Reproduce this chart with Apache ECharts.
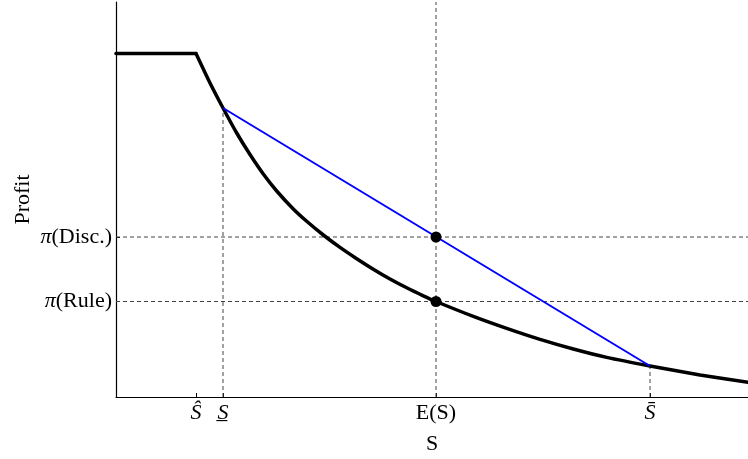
<!DOCTYPE html>
<html>
<head>
<meta charset="utf-8">
<script src="https://cdn.jsdelivr.net/npm/echarts@6/dist/echarts.min.js"></script>
<style>
html,body{margin:0;padding:0;background:#fff;}
#chart{width:748px;height:459px;}
</style>
</head>
<body>
<div id="chart"></div>
<script>
// ---- data (units: S along x, profit along y) ----
const xMax = 632;
const yMax = 395;
const xTickValues = [80, 107, 320, 534];
const xTickLabels = ['{it|Ŝ}', '{it|S̲}', 'E(S)', '{it|S̄}'];
const yTickValues = [95.5, 160];
const yTickLabels = ['{it|π}(Rule)', '{it|π}(Disc.)'];

const flatX = [0, 80];
const flatY = [343.5, 343.5];
const curveX = [80, 94, 107, 120.7, 134, 147.3, 160.7, 177.3, 190.7, 207.3, 224, 240.7, 257.3, 274, 290.7, 307.3, 320, 357.3, 390.7, 424, 457.3, 490.7, 534, 584, 632];
const curveY = [343.5, 314, 289, 264, 242.5, 223, 206, 188, 175.7, 162, 149.6, 138.3, 127.8, 118, 109.2, 101.2, 95.5, 80.6, 68.6, 57.6, 48, 39.6, 31, 22, 14.8];

const discX = [107, 534];
const discY = [289, 31];

const pointX = [320, 320];
const pointY = [160, 95.5];

// reference (dashed) lines: vertical to curve at S-lower, E(S) full height, S-upper
const vLineX = [107, 320, 534];
const vLineTop = [289, 395, 31];
const hLineY = [160, 95.5];

const zip = (a, b) => a.map((v, i) => [v, b[i]]);

const dashStyle = { color: '#444', width: 1, type: [4, 3] };
const series = [];
vLineX.forEach((x, i) => {
  series.push({ type: 'line', data: [[x, 0], [x, vLineTop[i]]], symbol: 'none', lineStyle: dashStyle, silent: true, z: 1 });
});
hLineY.forEach((y) => {
  series.push({ type: 'line', data: [[0, y], [xMax, y]], symbol: 'none', lineStyle: dashStyle, silent: true, z: 1 });
});
series.push({ type: 'line', data: zip(flatX, flatY), symbol: 'none', lineStyle: { color: '#000', width: 3.5, cap: 'round', join: 'round' }, z: 3 });
series.push({ type: 'line', data: zip(curveX, curveY), symbol: 'none', smooth: 0.2, lineStyle: { color: '#000', width: 3.5, cap: 'round', join: 'round' }, z: 3 });
series.push({ type: 'line', data: zip(discX, discY), symbol: 'none', lineStyle: { color: '#0000ff', width: 2 }, z: 4 });
series.push({ type: 'scatter', data: zip(pointX, pointY), symbol: 'circle', symbolSize: 11, itemStyle: { color: '#000', opacity: 1 }, z: 5 });

const serif = 'Liberation Serif, Times New Roman, serif';
const fs = 22;
const rich = { it: { fontStyle: 'italic', fontFamily: serif, fontSize: fs, color: '#000' } };

const chart = echarts.init(document.getElementById('chart'), null, { renderer: 'canvas' });
chart.setOption({
  animation: false,
  backgroundColor: '#fff',
  grid: { left: 116, right: 0, top: 2, bottom: 62, containLabel: false, outerBoundsMode: 'none' },
  xAxis: {
    type: 'value', min: 0, max: xMax,
    name: 'S', nameLocation: 'middle', nameGap: 36, nameMoveOverlap: false,
    nameTextStyle: { fontFamily: serif, fontSize: fs, color: '#000' },
    axisLine: { show: true, lineStyle: { color: '#000', width: 1.2 } },
    axisTick: { show: true, inside: true, length: 4, customValues: xTickValues, lineStyle: { color: '#000' } },
    axisLabel: {
      customValues: xTickValues,
      formatter: (v) => xTickLabels[xTickValues.indexOf(v)] || '',
      fontFamily: serif, fontSize: fs, color: '#000', margin: 5, rich: rich
    },
    splitLine: { show: false }
  },
  yAxis: {
    type: 'value', min: 0, max: yMax,
    name: 'Profit', nameLocation: 'middle', nameGap: 82, nameRotate: 90, nameMoveOverlap: false,
    nameTextStyle: { fontFamily: serif, fontSize: fs, color: '#000' },
    axisLine: { show: true, lineStyle: { color: '#000', width: 1.2 } },
    axisTick: { show: true, inside: true, length: 4, customValues: yTickValues, lineStyle: { color: '#000' } },
    axisLabel: {
      customValues: yTickValues,
      formatter: (v) => yTickLabels[yTickValues.indexOf(v)] || '',
      fontFamily: serif, fontSize: fs, color: '#000', margin: 4, rich: rich
    },
    splitLine: { show: false }
  },
  series: series
});
</script>
</body>
</html>
